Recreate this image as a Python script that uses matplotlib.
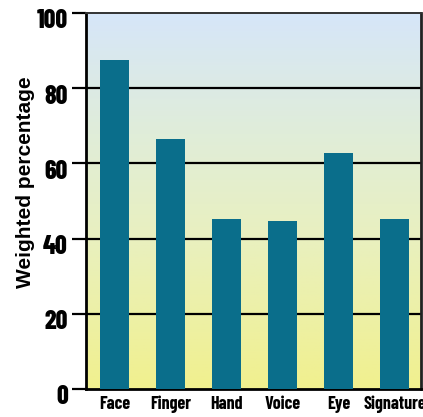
import numpy as np
import matplotlib
matplotlib.use("Agg")
import matplotlib.pyplot as plt
import matplotlib.transforms as mtransforms
from matplotlib import font_manager
from matplotlib.colors import LinearSegmentedColormap

categories = ["Face", "Finger", "Hand", "Voice", "Eye", "Signature"]
values = [87.5, 66.5, 45.2, 44.7, 62.8, 45.2]
yticks = [0, 20, 40, 60, 80, 100]
ylabel = "Weighted percentage"

available = {f.name for f in font_manager.fontManager.ttflist}
narrow = next((n for n in ["Barlow Condensed", "Archivo Narrow", "Roboto Condensed",
                           "Liberation Sans Narrow"] if n in available), "DejaVu Sans")
regular = "Liberation Sans" if "Liberation Sans" in available else "DejaVu Sans"

fig = plt.figure(figsize=(4.23, 4.17), dpi=100)
ax = fig.add_axes([86 / 423, 1 - 389 / 417, 335 / 423, 376 / 417])

# vertical background wash: yellow at the bottom fading to pale blue at the top
cmap = LinearSegmentedColormap.from_list(
    "wash", [(0.0, "#f1f08e"), (0.4, "#e9f0bf"), (0.68, "#e0edd9"), (1.0, "#d6e6f9")]
)
grad = np.linspace(0, 1, 256).reshape(-1, 1)
ax.imshow(grad, cmap=cmap, origin="lower", aspect="auto",
          extent=(-0.51, 5.47, 0, 100), zorder=0)

for y in yticks[1:-1]:
    ax.axhline(y, color="black", lw=1.6, zorder=1)

x = np.arange(len(categories))
ax.bar(x, values, width=0.52, color="#0a6e8b", zorder=3)

ax.set_xlim(-0.51, 5.47)
ax.set_ylim(0, 100)
ax.set_yticks(yticks)
ax.set_yticklabels([str(v) for v in yticks], fontfamily=narrow,
                   fontweight=800, fontsize=18.5)
ax.set_xticks(x)
ax.set_xticklabels(categories, fontfamily=narrow, fontweight="bold", fontsize=13)
ax.tick_params(axis="y", length=10, width=1.6, pad=3, color="black")
ax.tick_params(axis="x", length=0, pad=5)

# value labels sit a little below their tick marks
shift = mtransforms.ScaledTranslation(0, -6 / 100, fig.dpi_scale_trans)
for lab in ax.get_yticklabels():
    lab.set_transform(lab.get_transform() + shift)

ax.set_ylabel(ylabel, fontfamily=regular, fontweight="bold", fontsize=15)
ax.yaxis.set_label_coords(-0.152, 0.55)

for side in ("left", "bottom"):
    ax.spines[side].set_linewidth(2.0)
    ax.spines[side].set_color("black")
ax.spines["top"].set_linewidth(1.4)
ax.spines["top"].set_color("#333333")
ax.spines["right"].set_linewidth(2.0)
ax.spines["right"].set_color("#222222")

fig.savefig("out.png", dpi=100, facecolor="white")
